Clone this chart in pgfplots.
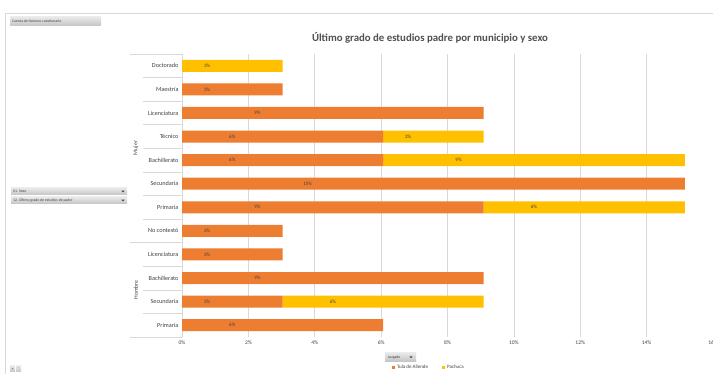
\documentclass[border=0pt]{standalone}
\usepackage{fontspec}
\setmainfont{Carlito}
\usepackage{pgfplots}
\pgfplotsset{compat=1.18}
\usepackage{pgfplotstable}
\definecolor{tula}{HTML}{ED7D31}
\definecolor{pach}{HTML}{FFC000}
\definecolor{txt}{HTML}{505050}
\definecolor{lbl}{HTML}{404040}
\definecolor{gridc}{HTML}{D9D9D9}
\definecolor{btntop}{HTML}{E8E8E8}
\definecolor{btnbot}{HTML}{C4C4C4}

\pgfplotstableread{
idx tula pachuca
0 0 3.03
1 3.03 0
2 9.09 0
3 6.06 3.03
4 6.06 9.09
5 15.15 0
6 9.09 6.06
7 3.03 0
8 3.03 0
9 9.09 0
10 3.03 6.06
11 6.06 0
}\datatable

\newcommand{\btntri}[2]{\fill[black!75] (#1-1.6,#2-0.9) -- (#1+1.6,#2-0.9) -- (#1,#2+1.0) -- cycle;}

\begin{document}
\begin{tikzpicture}
\useasboundingbox (0pt,0pt) rectangle (713pt,-374pt);
\begin{scope}[x=1pt,y=-1pt]
% chart frame
\draw[draw=gridc, line width=0.6pt] (5.5,374) -- (5.5,13.5) -- (713,13.5);
% field buttons
\shade[top color=btntop, bottom color=btnbot] (10,17) rectangle (101,26);
\node[anchor=west, inner sep=0pt, font=\fontsize{3.8}{4}\selectfont, text=lbl] at (12,21.5) {Cuenta de Número cuestionario};
\shade[top color=btntop, bottom color=btnbot] (11,188) rectangle (127,195);
\node[anchor=west, inner sep=0pt, font=\fontsize{3.8}{4}\selectfont, text=lbl] at (13,191.5) {01. Sexo};
\btntri{123}{191.5}
\shade[top color=btntop, bottom color=btnbot] (11,197) rectangle (127,204);
\node[anchor=west, inner sep=0pt, font=\fontsize{3.8}{4}\selectfont, text=lbl] at (13,200.5) {12. Último grado de estudios de padre};
\btntri{123}{200.5}
\shade[top color=btntop, bottom color=btnbot] (385,353) rectangle (416,361.5);
\node[anchor=west, inner sep=0pt, font=\fontsize{3.8}{4}\selectfont, text=lbl] at (388,357.2) {Juzgado};
\btntri{411}{357.2}
\shade[top color=btntop, bottom color=btnbot] (10,366) rectangle (15,372);
\node[inner sep=0pt, font=\fontsize{4}{4}\selectfont, text=lbl] at (12.5,369) {+};
\shade[top color=btntop, bottom color=btnbot] (16,366) rectangle (21,372);
\node[inner sep=0pt, font=\fontsize{4}{4}\selectfont, text=lbl] at (18.5,369) {-};
% title
\node[font=\fontsize{10.8}{13}\selectfont\bfseries, text=txt] at (430,38) {Último grado de estudios padre por municipio y sexo};
% category separators
\foreach \k in {1,...,7,9,10,11} {
  \draw[draw=gridc, line width=0.6pt] (143,54+\k*23.583) -- (182,54+\k*23.583);
}
\foreach \k in {0,8,12} {
  \draw[draw=gridc, line width=0.6pt] (130,54+\k*23.583) -- (182,54+\k*23.583);
}
\node[rotate=90, font=\fontsize{5.8}{6}\selectfont, text=lbl] at (136,148) {Mujer};
\node[rotate=90, font=\fontsize{5.8}{6}\selectfont, text=lbl] at (136,290) {Hombre};
\end{scope}

\begin{axis}[
  at={(182pt,-337pt)}, anchor=south west,
  scale only axis, width=531pt, height=283pt,
  xbar stacked, bar width=12pt,
  xmin=0, xmax=16, ymin=-0.5, ymax=11.5, y dir=reverse,
  xtick={0,2,...,16},
  xticklabel={\pgfmathprintnumber{\tick}\%},
  ytick={0,...,11},
  yticklabels={Doctorado,Maestría,Licenciatura,Técnico,Bachillerato,Secundaria,Primaria,No contestó,Licenciatura,Bachillerato,Secundaria,Primaria},
  /pgf/number format/assume math mode=true,
  tick label style={font=\fontsize{5.5}{6}\selectfont, text=lbl},
  yticklabel style={font=\fontsize{6.2}{7}\selectfont},
  major tick length=0pt,
  xmajorgrids, grid style={draw=gridc, line width=0.6pt},
  axis lines*=left,
  x axis line style={draw=none},
  y axis line style={draw=gridc, line width=0.6pt},
  point meta=explicit,
  visualization depends on={rawx \as \rawx},
  nodes near coords={\pgfmathfloatifflags{\pgfplotspointmeta}{0}{}{\pgfmathprintnumber[fixed,precision=0]{\pgfplotspointmeta}\%}},
  every node near coord/.append style={anchor=center, shift={(axis direction cs:-\rawx/4,0)}, font=\fontsize{5}{5}\selectfont, text=lbl},
  legend style={at={(0.465,-0.1095)}, anchor=center, draw=none, fill=none, font=\fontsize{5}{5}\selectfont, text=lbl, legend columns=2, /tikz/every even column/.append style={column sep=12pt}, inner sep=0pt},
  legend image code/.code={\fill[#1] (0pt,-1.5pt) rectangle (3pt,1.5pt);},
]
\addplot[fill=tula, draw=none] table[x=tula, y=idx, meta=tula]{\datatable};
\addplot[fill=pach, draw=none] table[x=pachuca, y=idx, meta=pachuca]{\datatable};
\legend{Tula de Allende, Pachuca}
\end{axis}
\end{tikzpicture}
\end{document}
